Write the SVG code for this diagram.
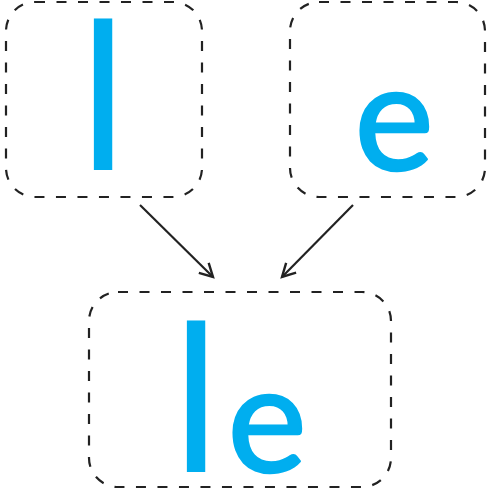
<svg xmlns="http://www.w3.org/2000/svg" width="488" height="495" viewBox="0 0 488 495">
<style>
.box{fill:none;stroke:#222;stroke-width:2.2;stroke-dasharray:10 11.5}
.lt{font-family:Lato,"Open Sans","Noto Sans",sans-serif;fill:#00AEEF;text-anchor:middle}
.le{stroke:#00AEEF;stroke-width:2.5;stroke-linejoin:round}
.conn{fill:none;stroke:#222;stroke-width:2.2}
</style>
<defs>
<marker id="arr" markerUnits="userSpaceOnUse" markerWidth="20" markerHeight="20" refX="14" refY="8" orient="auto">
<path d="M1,1 L14,8 L1,15" fill="none" stroke="#222" stroke-width="2.4" stroke-linejoin="miter"/>
</marker>
</defs>
<g id="node-l">
<rect class="box" x="6" y="2" width="196" height="195" rx="29"/>
<text class="lt" x="103" y="170" font-size="206">l</text>
</g>
<g id="node-e">
<rect class="box" x="290" y="2" width="195" height="195" rx="29"/>
<text class="lt le" x="394" y="170" font-size="150">e</text>
</g>
<g id="node-le">
<rect class="box" x="89" y="292" width="302" height="195" rx="29"/>
<text class="lt" x="196" y="472" font-size="206">l</text>
<text class="lt le" x="267" y="472" font-size="150">e</text>
</g>
<g id="connectors">
<line class="conn" x1="140" y1="205" x2="213" y2="277" marker-end="url(#arr)"/>
<line class="conn" x1="353" y1="205" x2="282" y2="277" marker-end="url(#arr)"/>
</g>
</svg>
